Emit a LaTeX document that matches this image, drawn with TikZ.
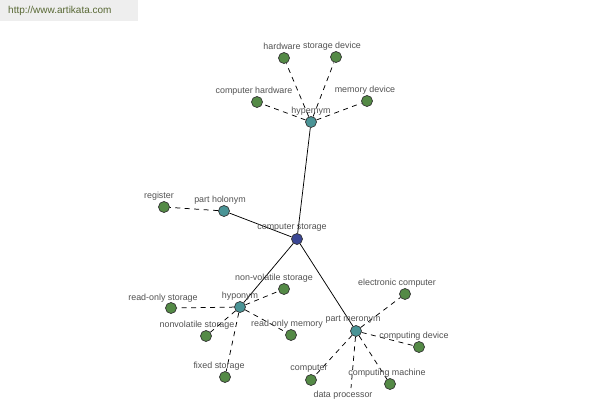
\documentclass[tikz,border=0pt]{standalone}
\usepackage{fontspec}
\setmainfont{Liberation Sans}
\begin{document}
\begin{tikzpicture}[x=1pt,y=-1pt,
  lbl/.style={font=\fontsize{8.9}{10}\selectfont, text=black!68, inner sep=0pt},
  dot/.style={circle, draw=black!80, line width=0.7pt, minimum size=11pt, inner sep=0pt},
  leaf/.style={dot, fill=leafc},
  hubn/.style={dot, fill=hubc},
  rootn/.style={dot, fill=rootc},
  rel/.style={draw=black, line width=0.75pt},
  sub/.style={draw=black, line width=0.75pt, dash pattern=on 5pt off 4.5pt}]
\definecolor{leafc}{RGB}{84,138,70}
\definecolor{hubc}{RGB}{74,148,150}
\definecolor{rootc}{RGB}{58,70,148}
\definecolor{urlc}{RGB}{88,104,52}
\definecolor{urlbg}{RGB}{238,238,238}
\useasboundingbox (0,0) rectangle (600,400);
\fill[white] (0,0) rectangle (600,400);
\fill[urlbg] (0,0) rectangle (138,21);
\node[font=\fontsize{10}{12}\selectfont, text=urlc, anchor=west, inner sep=0pt] (url) at (8,11) {http://www.artikata.com};

% nodes
\node[rootn] (cs) at (297,239) {};
\node[hubn] (hyper) at (311,122) {};
\node[hubn] (hol) at (224,211) {};
\node[hubn] (hypo) at (240,307) {};
\node[hubn] (mer) at (356,331) {};

\node[leaf] (hw) at (284,58) {};
\node[leaf] (sd) at (336,57) {};
\node[leaf] (ch) at (257,102) {};
\node[leaf] (md) at (367,101) {};
\node[leaf] (reg) at (164,207) {};
\node[leaf] (nvs) at (284,289) {};
\node[leaf] (ros) at (171,308) {};
\node[leaf] (nvs2) at (206,336) {};
\node[leaf] (rom) at (291,335) {};
\node[leaf] (fs) at (225,377) {};
\node[leaf] (ec) at (405,294) {};
\node[leaf] (cd) at (419,347) {};
\node[leaf] (comp) at (311,380) {};
\node[leaf] (cm) at (390,384) {};
\coordinate (dp) at (351,388);

% connectors
\draw[rel] (cs) -- (hyper);
\draw[rel] (cs) -- (hol);
\draw[rel] (cs) -- (hypo);
\draw[rel] (cs) -- (mer);
\foreach \t in {hw,sd,ch,md} \draw[sub] (hyper) -- (\t);
\draw[sub] (hol) -- (reg);
\foreach \t in {nvs,ros,nvs2,rom,fs} \draw[sub] (hypo) -- (\t);
\foreach \t in {ec,cd,comp,cm} \draw[sub] (mer) -- (\t);
\draw[sub] (mer) -- (dp);

% labels
\node[lbl] (lhw) at (282,46) {hardware};
\node[lbl] (lsd) at (332,46) {storage device};
\node[lbl] (lch) at (254,91) {computer hardware};
\node[lbl] (lmd) at (365,90) {memory device};
\node[lbl] (lhyper) at (311,111) {hypernym};
\node[lbl] (lreg) at (159,196) {register};
\node[lbl] (lhol) at (220,200) {part holonym};
\node[lbl] (lcs) at (292,228) {computer storage};
\node[lbl] (lnvs) at (274,278) {non-volatile storage};
\node[lbl] (lros) at (163,298) {read-only storage};
\node[lbl] (lhypo) at (240,296) {hyponym};
\node[lbl] (lnvs2) at (197,325) {nonvolatile storage};
\node[lbl] (lrom) at (287,324) {read-only memory};
\node[lbl] (lfs) at (219,366) {fixed storage};
\node[lbl] (lcomp) at (309,369) {computer};
\node[lbl] (lmer) at (353,320) {part meronym};
\node[lbl] (lec) at (397,283) {electronic computer};
\node[lbl] (lcd) at (414,336) {computing device};
\node[lbl] (lcm) at (387,373) {computing machine};
\node[lbl] (ldp) at (343,395) {data processor};
\end{tikzpicture}
\end{document}
